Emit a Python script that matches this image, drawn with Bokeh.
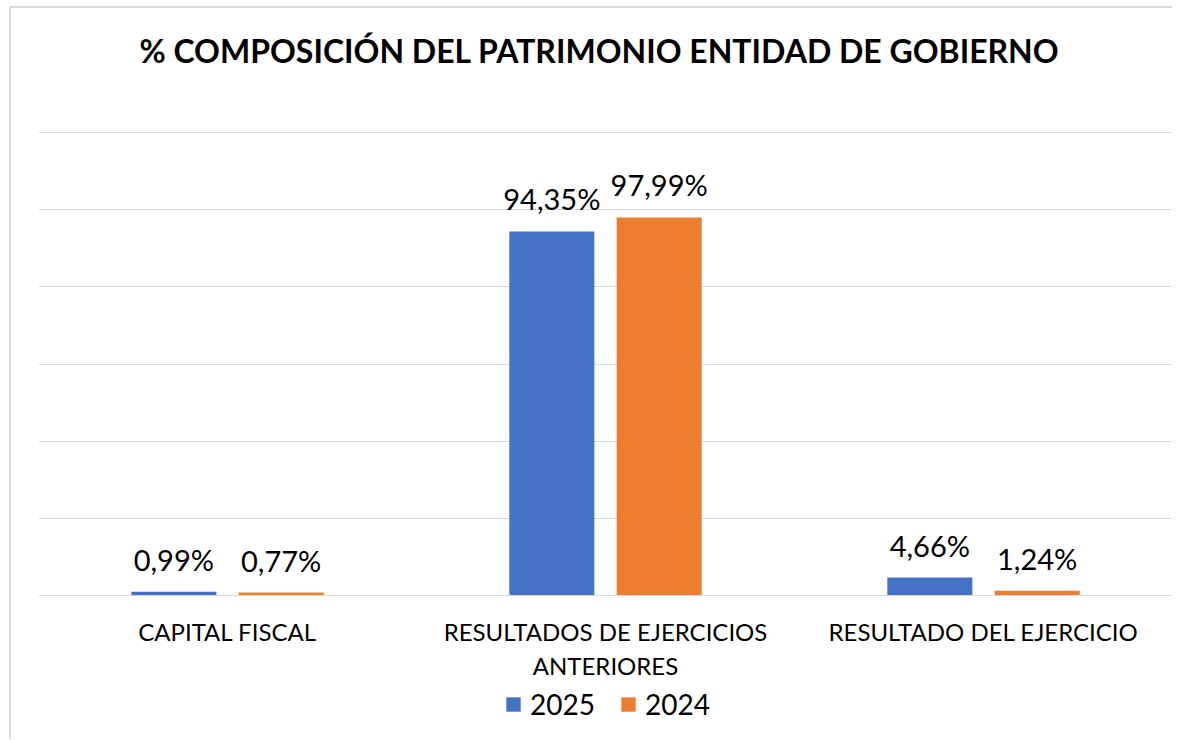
from bokeh.plotting import figure
from bokeh.models import (ColumnDataSource, FactorRange, Range1d, Legend, LegendItem,
                          FixedTicker)
from bokeh.transform import dodge
from bokeh.core.properties import value
from bokeh.embed import file_html
from bokeh.resources import INLINE

title_text = "% COMPOSICIÓN DEL PATRIMONIO ENTIDAD DE GOBIERNO"
categories = ["CAPITAL FISCAL", "RESULTADOS DE EJERCICIOS\nANTERIORES", "RESULTADO DEL EJERCICIO"]
v2025 = [0.99, 94.35, 4.66]
v2024 = [0.77, 97.99, 1.24]
series_names = ["2025", "2024"]
grid_ticks = [0, 20, 40, 60, 80, 100, 120]

def fmt(v):
    return f"{v:.2f}%".replace(".", ",")

src = ColumnDataSource(dict(
    cat=categories,
    v2025=v2025,
    v2024=v2024,
    l2025=[fmt(v) for v in v2025],
    l2024=[fmt(v) for v in v2024],
))

FONT = "Lato"
PX_PER_UNIT = 463 / 120.0       # plot area: 120 units over 463 px
Y_START = -143 / PX_PER_UNIT    # room under the baseline for labels and legend
Y_END = 120 + 124 / PX_PER_UNIT  # room above the top gridline for the title
TITLE_Y = 120 + 82 / PX_PER_UNIT

p = figure(
    x_range=FactorRange(*categories, range_padding=0),
    y_range=Range1d(Y_START, Y_END),
    frame_width=1134, frame_height=730,
    output_backend="svg", toolbar_location=None,
    min_border_left=27, min_border_right=0,
    min_border_top=0, min_border_bottom=0,
)
p.styles = {"margin-left": "9px", "margin-top": "6px",
            "border-left": "2px solid #d9d9d9", "border-top": "2px solid #d9d9d9"}

p.outline_line_color = None
p.xgrid.grid_line_color = None
p.ygrid.ticker = FixedTicker(ticks=grid_ticks)
p.ygrid.grid_line_color = "#d9d9d9"
p.ygrid.grid_line_width = 1
p.yaxis.visible = False

p.xaxis.fixed_location = 0
p.xaxis.axis_line_color = "#d9d9d9"
p.xaxis.major_tick_line_color = None
p.xaxis.minor_tick_line_color = None
p.xaxis.major_label_text_font = FONT
p.xaxis.major_label_text_font_size = "24px"
p.xaxis.major_label_text_color = "#000000"
p.xaxis.major_label_standoff = 15

# title
p.text(x=[categories[1]], y=[TITLE_Y], text=[title_text], x_offset=-6,
       text_align="center", text_baseline="middle",
       text_font=value(FONT), text_font_size="32px", text_font_style="bold",
       text_color="#000000")

W = 0.225
OFF = 0.142
r1 = p.vbar(x=dodge("cat", -OFF, range=p.x_range), top="v2025", width=W, bottom=0,
            source=src, fill_color="#4472C4", line_color=None)
r2 = p.vbar(x=dodge("cat", OFF, range=p.x_range), top="v2024", width=W, bottom=0,
            source=src, fill_color="#ED7D31", line_color=None)

for off, col in ((-OFF, "v2025"), (OFF, "v2024")):
    p.text(x=dodge("cat", off, range=p.x_range), y=col, text="l" + col[1:], source=src,
           text_align="center", text_baseline="bottom", y_offset=-15,
           text_font=value(FONT), text_font_size="29px", text_color="#000000")

legend = Legend(items=[LegendItem(label=series_names[0], renderers=[r1]),
                       LegendItem(label=series_names[1], renderers=[r2])],
                orientation="horizontal", location=(466, 17))
legend.label_text_font = FONT
legend.label_text_font_size = "28px"
legend.label_text_color = "#000000"
legend.glyph_width = 18
legend.glyph_height = 18
legend.label_standoff = 8
legend.spacing = 24
legend.border_line_color = None
legend.background_fill_alpha = 0
legend.padding = 0
legend.margin = 0
p.add_layout(legend, "center")

open("out.html", "w").write(file_html(p, INLINE))
